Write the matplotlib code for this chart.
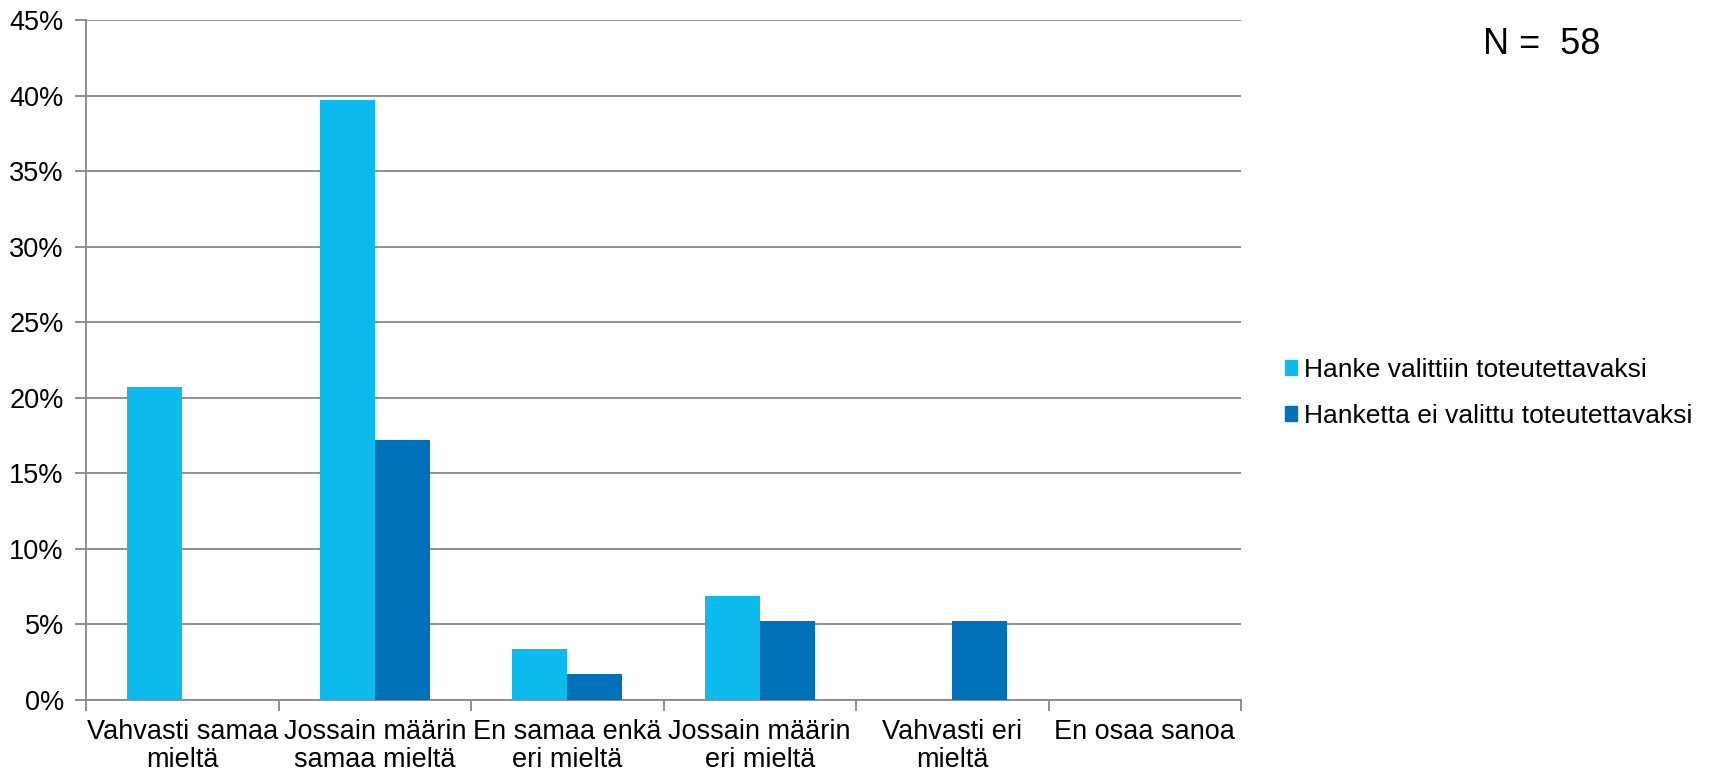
import numpy as np
import matplotlib.pyplot as plt
from matplotlib.patches import Patch

plt.rcParams['font.family'] = ['Liberation Sans', 'DejaVu Sans']

categories = ['Vahvasti samaa\nmieltä', 'Jossain määrin\nsamaa mieltä', 'En samaa enkä\neri mieltä',
              'Jossain määrin\neri mieltä', 'Vahvasti eri\nmieltä', 'En osaa sanoa']
series_names = ['Hanke valittiin toteutettavaksi', 'Hanketta ei valittu toteutettavaksi']
selected = [20.7, 39.7, 3.4, 6.9, 0.0, 0.0]
not_selected = [0.0, 17.2, 1.7, 5.2, 5.2, 0.0]
n_label = 'N =  58'

light = '#0DBAEE'
dark = '#0070B9'
grid = '#878787'

fig = plt.figure(figsize=(17.13, 7.75), dpi=100)
ax = fig.add_axes([86 / 1713, 75 / 775, (1241 - 86) / 1713, (700 - 20) / 775])

x = np.arange(len(categories))
w = 0.2857
ax.bar(x - w / 2, selected, w, color=light, zorder=3)
ax.bar(x + w / 2, not_selected, w, color=dark, zorder=3)

ax.set_xlim(-0.5, len(categories) - 0.5)
ax.set_ylim(0, 45)
ax.set_yticks(np.arange(0, 50, 5))
ax.set_yticklabels([f'{v}%' for v in range(0, 50, 5)])
ax.yaxis.grid(True, color=grid, linewidth=1.3, zorder=0)

ax.set_xticks(np.arange(-0.5, len(categories), 1.0))
ax.set_xticklabels([])
ax.set_xticks(x, minor=True)
ax.set_xticklabels(categories, minor=True, linespacing=1.08)
ax.tick_params(axis='x', which='minor', length=0, pad=14, labelsize=19.5)
ax.tick_params(axis='x', which='major', length=8, width=1.3, color=grid)
ax.tick_params(axis='y', length=8, width=1.3, color=grid, labelsize=19.5, pad=8)

for s in ['top', 'right']:
    ax.spines[s].set_visible(False)
for s in ['left', 'bottom']:
    ax.spines[s].set_color(grid)
    ax.spines[s].set_linewidth(1.3)

handles = [Patch(color=light), Patch(color=dark)]
fig.legend(handles, series_names, loc='center left', bbox_to_anchor=(1261 / 1713, 1 - 393 / 775),
           frameon=False, fontsize=19, handlelength=0.48, handleheight=0.48, handletextpad=0.25,
           labelspacing=0.85)

fig.text(1483 / 1713, 1 - 44 / 775, n_label, fontsize=26, va='center', ha='left')

fig.savefig('out.png', dpi=100)
